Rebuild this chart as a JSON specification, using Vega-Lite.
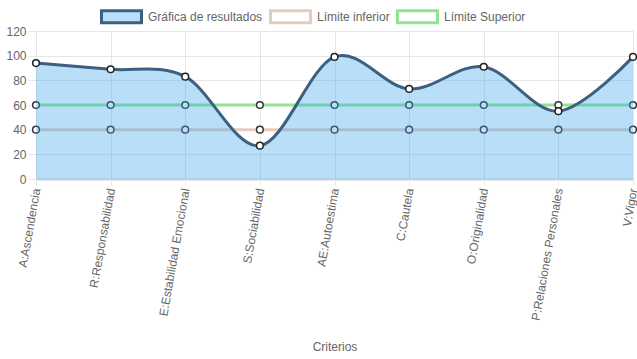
{
  "$schema": "https://vega.github.io/schema/vega-lite/v6.json",
  "width": 597,
  "height": 148,
  "autosize": "none",
  "padding": {"left": 36, "top": 31, "right": 4, "bottom": 180},
  "background": "white",
  "config": {
    "view": {"stroke": null},
    "font": "Liberation Sans",
    "axis": {"labelFont": "Liberation Sans", "labelFontSize": 12, "labelColor": "#666", "titleFont": "Liberation Sans", "titleFontSize": 12, "titleColor": "#666", "titleFontWeight": "normal", "gridColor": "#e6e6e6", "tickColor": "#e6e6e6", "domain": false},
    "legend": {"labelFont": "Liberation Sans", "labelFontSize": 12, "labelColor": "#666"}
  },
  "data": {
    "values": [
      {"criterio": "A:Ascendencia", "serie": "Gráfica de resultados", "valor": 94},
      {"criterio": "R:Responsabilidad", "serie": "Gráfica de resultados", "valor": 89},
      {"criterio": "E:Estabilidad Emocional", "serie": "Gráfica de resultados", "valor": 83},
      {"criterio": "S:Sociabilidad", "serie": "Gráfica de resultados", "valor": 27},
      {"criterio": "AE:Autoestima", "serie": "Gráfica de resultados", "valor": 99},
      {"criterio": "C:Cautela", "serie": "Gráfica de resultados", "valor": 73},
      {"criterio": "O:Originalidad", "serie": "Gráfica de resultados", "valor": 91},
      {"criterio": "P:Relaciones Personales", "serie": "Gráfica de resultados", "valor": 55},
      {"criterio": "V:Vigor", "serie": "Gráfica de resultados", "valor": 99},
      {"criterio": "A:Ascendencia", "serie": "Límite inferior", "valor": 40},
      {"criterio": "R:Responsabilidad", "serie": "Límite inferior", "valor": 40},
      {"criterio": "E:Estabilidad Emocional", "serie": "Límite inferior", "valor": 40},
      {"criterio": "S:Sociabilidad", "serie": "Límite inferior", "valor": 40},
      {"criterio": "AE:Autoestima", "serie": "Límite inferior", "valor": 40},
      {"criterio": "C:Cautela", "serie": "Límite inferior", "valor": 40},
      {"criterio": "O:Originalidad", "serie": "Límite inferior", "valor": 40},
      {"criterio": "P:Relaciones Personales", "serie": "Límite inferior", "valor": 40},
      {"criterio": "V:Vigor", "serie": "Límite inferior", "valor": 40},
      {"criterio": "A:Ascendencia", "serie": "Límite Superior", "valor": 60},
      {"criterio": "R:Responsabilidad", "serie": "Límite Superior", "valor": 60},
      {"criterio": "E:Estabilidad Emocional", "serie": "Límite Superior", "valor": 60},
      {"criterio": "S:Sociabilidad", "serie": "Límite Superior", "valor": 60},
      {"criterio": "AE:Autoestima", "serie": "Límite Superior", "valor": 60},
      {"criterio": "C:Cautela", "serie": "Límite Superior", "valor": 60},
      {"criterio": "O:Originalidad", "serie": "Límite Superior", "valor": 60},
      {"criterio": "P:Relaciones Personales", "serie": "Límite Superior", "valor": 60},
      {"criterio": "V:Vigor", "serie": "Límite Superior", "valor": 60}
    ]
  },
  "encoding": {
    "x": {
      "field": "criterio", "type": "ordinal", "sort": null,
      "scale": {"type": "point", "padding": 0},
      "axis": {"title": "Criterios", "labelAngle": -80, "labelAlign": "right", "labelBaseline": "middle", "labelPadding": 3, "tickSize": 6, "grid": true, "titlePadding": 20, "labelLimit": 200}
    },
    "y": {
      "field": "valor", "type": "quantitative",
      "scale": {"domain": [0, 120], "nice": false},
      "axis": {"title": null, "values": [0, 20, 40, 60, 80, 100, 120], "tickSize": 8, "labelPadding": 2, "grid": true,
        "gridColor": {"condition": {"test": "datum.value === 0", "value": "#cfcfcf"}, "value": "#e6e6e6"},
        "gridWidth": {"condition": {"test": "datum.value === 0", "value": 2}, "value": 1}}
    }
  },
  "layer": [
    {
      "transform": [{"filter": "datum.serie !== 'Gráfica de resultados'"}],
      "mark": {"type": "line", "strokeWidth": 3},
      "encoding": {
        "stroke": {
          "field": "serie", "type": "nominal",
          "scale": {"domain": ["Gráfica de resultados", "Límite inferior", "Límite Superior"], "range": ["#3d6080", "#e6cbbf", "#90e690"]},
          "legend": {"title": null, "orient": "none", "direction": "horizontal", "legendX": 64, "legendY": -36, "padding": 0, "symbolType": "M-1,-0.3H1V0.3H-1Z", "symbolSize": 1600, "symbolStrokeWidth": 3, "labelOffset": 5, "columnPadding": 1, "symbolOpacity": 1}
        }
      }
    },
    {
      "transform": [{"filter": "datum.serie !== 'Gráfica de resultados'"}],
      "mark": {"type": "point", "filled": true, "fill": "white", "stroke": "#333", "strokeWidth": 1.5, "size": 45, "opacity": 1},
      "encoding": {}
    },
    {
      "transform": [{"filter": "datum.serie === 'Gráfica de resultados'"}],
      "mark": {"type": "area", "interpolate": "cardinal"},
      "encoding": {
        "fill": {
          "field": "serie", "type": "nominal",
          "scale": {"domain": ["Gráfica de resultados", "Límite inferior", "Límite Superior"], "range": ["rgba(54,162,235,0.35)", "#ffffff", "#ffffff"]},
          "legend": {"title": null, "orient": "none", "direction": "horizontal", "legendX": 64, "legendY": -36, "padding": 0, "symbolType": "M-1,-0.3H1V0.3H-1Z", "symbolSize": 1600, "symbolStrokeWidth": 3, "labelOffset": 5, "columnPadding": 1, "symbolOpacity": 1}
        }
      }
    },
    {
      "transform": [{"filter": "datum.serie === 'Gráfica de resultados'"}],
      "mark": {"type": "line", "strokeWidth": 3, "interpolate": "cardinal"},
      "encoding": {
        "stroke": {"field": "serie", "type": "nominal"}
      }
    },
    {
      "transform": [{"filter": "datum.serie === 'Gráfica de resultados'"}],
      "mark": {"type": "point", "filled": true, "fill": "white", "stroke": "#222", "strokeWidth": 1.5, "size": 45, "opacity": 1},
      "encoding": {}
    }
  ]
}
